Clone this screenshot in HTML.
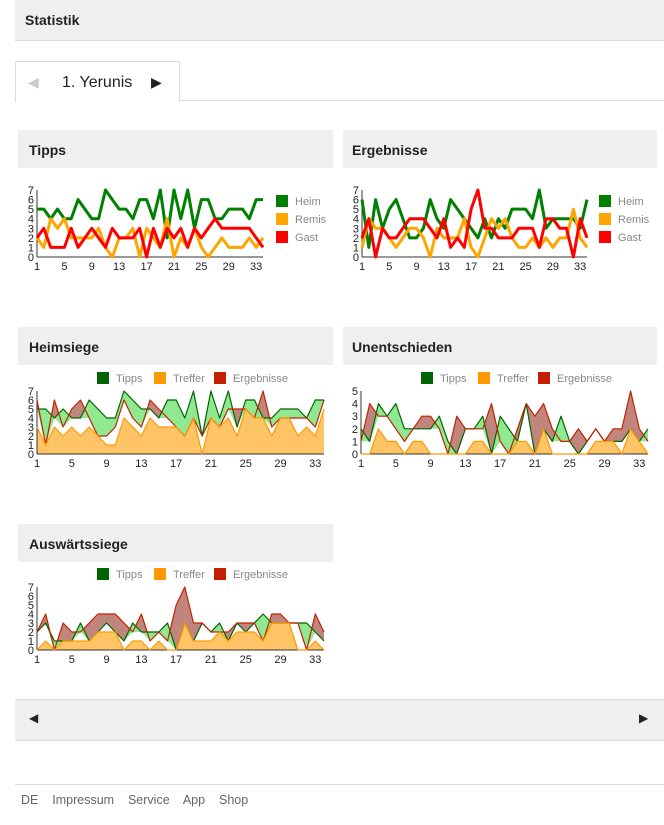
<!DOCTYPE html>
<html><head><meta charset="utf-8"><style>
body{margin:0;width:664px;height:825px;background:#fff;font-family:"Liberation Sans",Arial,sans-serif;position:relative;overflow:hidden}
.abs{position:absolute}
.bar{background:#efefef;font-weight:bold;font-size:14px;color:#222;box-sizing:border-box}
svg{position:absolute;left:0;top:0}
</style></head><body>
<div class="abs bar" style="left:15px;top:0;width:649px;height:41px;border-bottom:1px solid #ddd;padding:12px 0 0 10px">Statistik</div>
<div class="abs" style="left:15px;top:100px;width:649px;border-top:1px solid #ddd"></div>
<div class="abs" style="left:15px;top:61px;width:163px;height:40px;border:1px solid #ddd;border-bottom:none;background:#fff"></div>
<div class="abs" style="left:28px;top:74px;font-size:14px;color:#ccc">◀</div>
<div class="abs" style="left:62px;top:74px;font-size:16px;color:#222">1. Yerunis</div>
<div class="abs" style="left:151px;top:74px;font-size:14px;color:#222">▶</div>
<div class="abs bar" style="left:18px;top:130px;width:315px;height:38px;padding:12px 0 0 11px">Tipps</div>
<div class="abs bar" style="left:343px;top:130px;width:314px;height:38px;padding:12px 0 0 9px">Ergebnisse</div>
<div class="abs bar" style="left:18px;top:327px;width:315px;height:38px;padding:12px 0 0 11px">Heimsiege</div>
<div class="abs bar" style="left:343px;top:327px;width:314px;height:38px;padding:12px 0 0 9px">Unentschieden</div>
<div class="abs bar" style="left:18px;top:524px;width:315px;height:38px;padding:12px 0 0 11px">Auswärtssiege</div>
<div class="abs" style="left:15px;top:699px;width:649px;height:40px;background:#efefef;border-top:1px solid #ddd;border-bottom:1px solid #ddd"></div>
<div class="abs" style="left:29px;top:711px;font-size:12px;color:#222">◀</div>
<div class="abs" style="left:639px;top:711px;font-size:12px;color:#222">▶</div>
<div class="abs" style="left:15px;top:784px;width:649px;border-top:1px solid #ddd"></div>
<div class="abs" style="left:21px;top:793px;font-size:12.5px;color:#666">DE&nbsp;&nbsp;&nbsp; Impressum&nbsp;&nbsp;&nbsp; Service&nbsp;&nbsp;&nbsp; App&nbsp;&nbsp;&nbsp; Shop</div>
<svg id="s" width="664" height="825"></svg>
<script>
var TH=[5,5,4,5,4,4,6,5,4,4,7,6,5,5,4,6,6,4,7,2,7,4,7,3,6,6,4,4,5,5,5,4,6,6];
var TR=[2,1,4,3,4,2,2,2,2,3,1,0,2,2,3,0,3,2,1,4,0,2,1,3,1,0,1,2,1,1,1,2,1,2];
var TG=[2,3,1,1,1,3,1,2,3,2,1,3,2,2,2,3,0,3,1,3,2,3,1,3,2,3,4,3,3,3,3,3,2,1];
var EH=[6,1,6,3,5,6,4,2,2,3,6,4,3,6,5,4,3,2,4,2,4,3,5,5,5,4,7,3,4,4,4,4,3,6];
var ER=[1,4,3,3,2,1,2,3,3,2,0,3,2,2,2,4,1,0,2,4,3,4,2,1,1,2,1,2,1,2,2,5,2,1];
var EG=[2,4,0,3,2,2,3,4,4,4,3,2,4,1,2,1,5,7,3,3,2,2,2,3,3,3,1,4,4,3,3,0,4,2];
var FH=[3,1,3,2,3,2,3,2,1,1,4,3,2,4,3,3,3,2,4,0,4,3,4,2,5,4,4,2,4,4,2,3,2,5];
var FR=[0,0,2,1,1,0,1,1,0,0,0,0,0,1,1,0,0,0,1,1,0,2,0,0,0,0,0,1,1,1,0,2,1,0];
var FG=[0,1,0,1,1,1,1,2,2,2,0,1,1,0,1,0,0,3,1,1,1,2,1,2,2,2,1,3,3,3,0,0,1,0];
var s=document.getElementById('s'),h='';
function txt(x,y,t,a,c,sz){h+='<text x="'+x+'" y="'+y+'" font-size="'+(sz||11)+'" fill="'+(c||'#222')+'" text-anchor="'+(a||'middle')+'">'+t+'</text>';}
function axes(x0,x1,y0,y1,max){
 for(var v=0;v<=max;v++){var y=y0+(y1-y0)*v/max;txt(x0-3,y+4,v,'end','#222',11);}
 h+='<line x1="'+(x0)+'" y1="'+y1+'" x2="'+x0+'" y2="'+y0+'" stroke="#333"/>';
 h+='<line x1="'+x0+'" y1="'+y0+'" x2="'+x1+'" y2="'+y0+'" stroke="#333"/>';
 for(var i=1;i<=33;i+=4){txt(x0+(x1-x0)*(i-1)/33,y0+13,i);}
}
function pts(d,x0,x1,y0,y1,max){return d.map(function(v,i){return (x0+(x1-x0)*i/33).toFixed(1)+','+(y0+(y1-y0)*v/max).toFixed(1)}).join(' ');}
function line(d,x0,x1,y0,y1,max,c,w){h+='<polyline fill="none" stroke="'+c+'" stroke-width="'+w+'" stroke-linejoin="round" points="'+pts(d,x0,x1,y0,y1,max)+'"/>';}
function area(d,x0,x1,y0,y1,max,c){h+='<polygon fill="'+c+'" points="'+x0+','+y0+' '+pts(d,x0,x1,y0,y1,max)+' '+x1+','+y0+'"/>';}
function lc(x0,x1,y0,y1,H,R,G,lx){
 axes(x0,x1,y0,y1,7);
 line(H,x0,x1,y0,y1,7,'#008000',3);line(R,x0,x1,y0,y1,7,'#ffa500',3);line(G,x0,x1,y0,y1,7,'#ff0000',3);
 [['Heim','#008000'],['Remis','#ffa500'],['Gast','#ff0000']].forEach(function(e,i){
  h+='<rect x="'+lx+'" y="'+(195+i*18)+'" width="12" height="12" fill="'+e[1]+'"/>';txt(lx+19,205+i*18,e[0],'start','#888',11);});
}
function ac(x0,x1,y0,y1,max,T,F,E,ly){
 var mn=T.map(function(v,i){return Math.min(v,E[i])});
 area(E,x0,x1,y0,y1,max,'#c0857c');area(T,x0,x1,y0,y1,max,'#90e890');area(mn,x0,x1,y0,y1,max,'#fff');area(F,x0,x1,y0,y1,max,'#ffc466');
 axes(x0,x1,y0,y1,max);
 line(T,x0,x1,y0,y1,max,'#006400',1.2);line(E,x0,x1,y0,y1,max,'#c42000',1.2);line(F,x0,x1,y0,y1,max,'#ff9900',1.2);
 var lx=x0+60;
 [['Tipps','#006400',0],['Treffer','#ff9900',57],['Ergebnisse','#c42000',117]].forEach(function(e){
  h+='<rect x="'+(lx+e[2])+'" y="'+(ly-6)+'" width="12" height="12" fill="'+e[1]+'"/>';txt(lx+e[2]+19,ly+4,e[0],'start','#888',11);});
}
lc(37,263,257,190,TH,TR,TG,276);
lc(362,587,257,190,EH,ER,EG,599);
ac(37,324,454,391,7,TH,FH,EH,378);
ac(361,648,454,391,5,TR,FR,ER,378);
ac(37,324,650,587,7,TG,FG,EG,574);
s.innerHTML=h;
</script>
</body></html>
